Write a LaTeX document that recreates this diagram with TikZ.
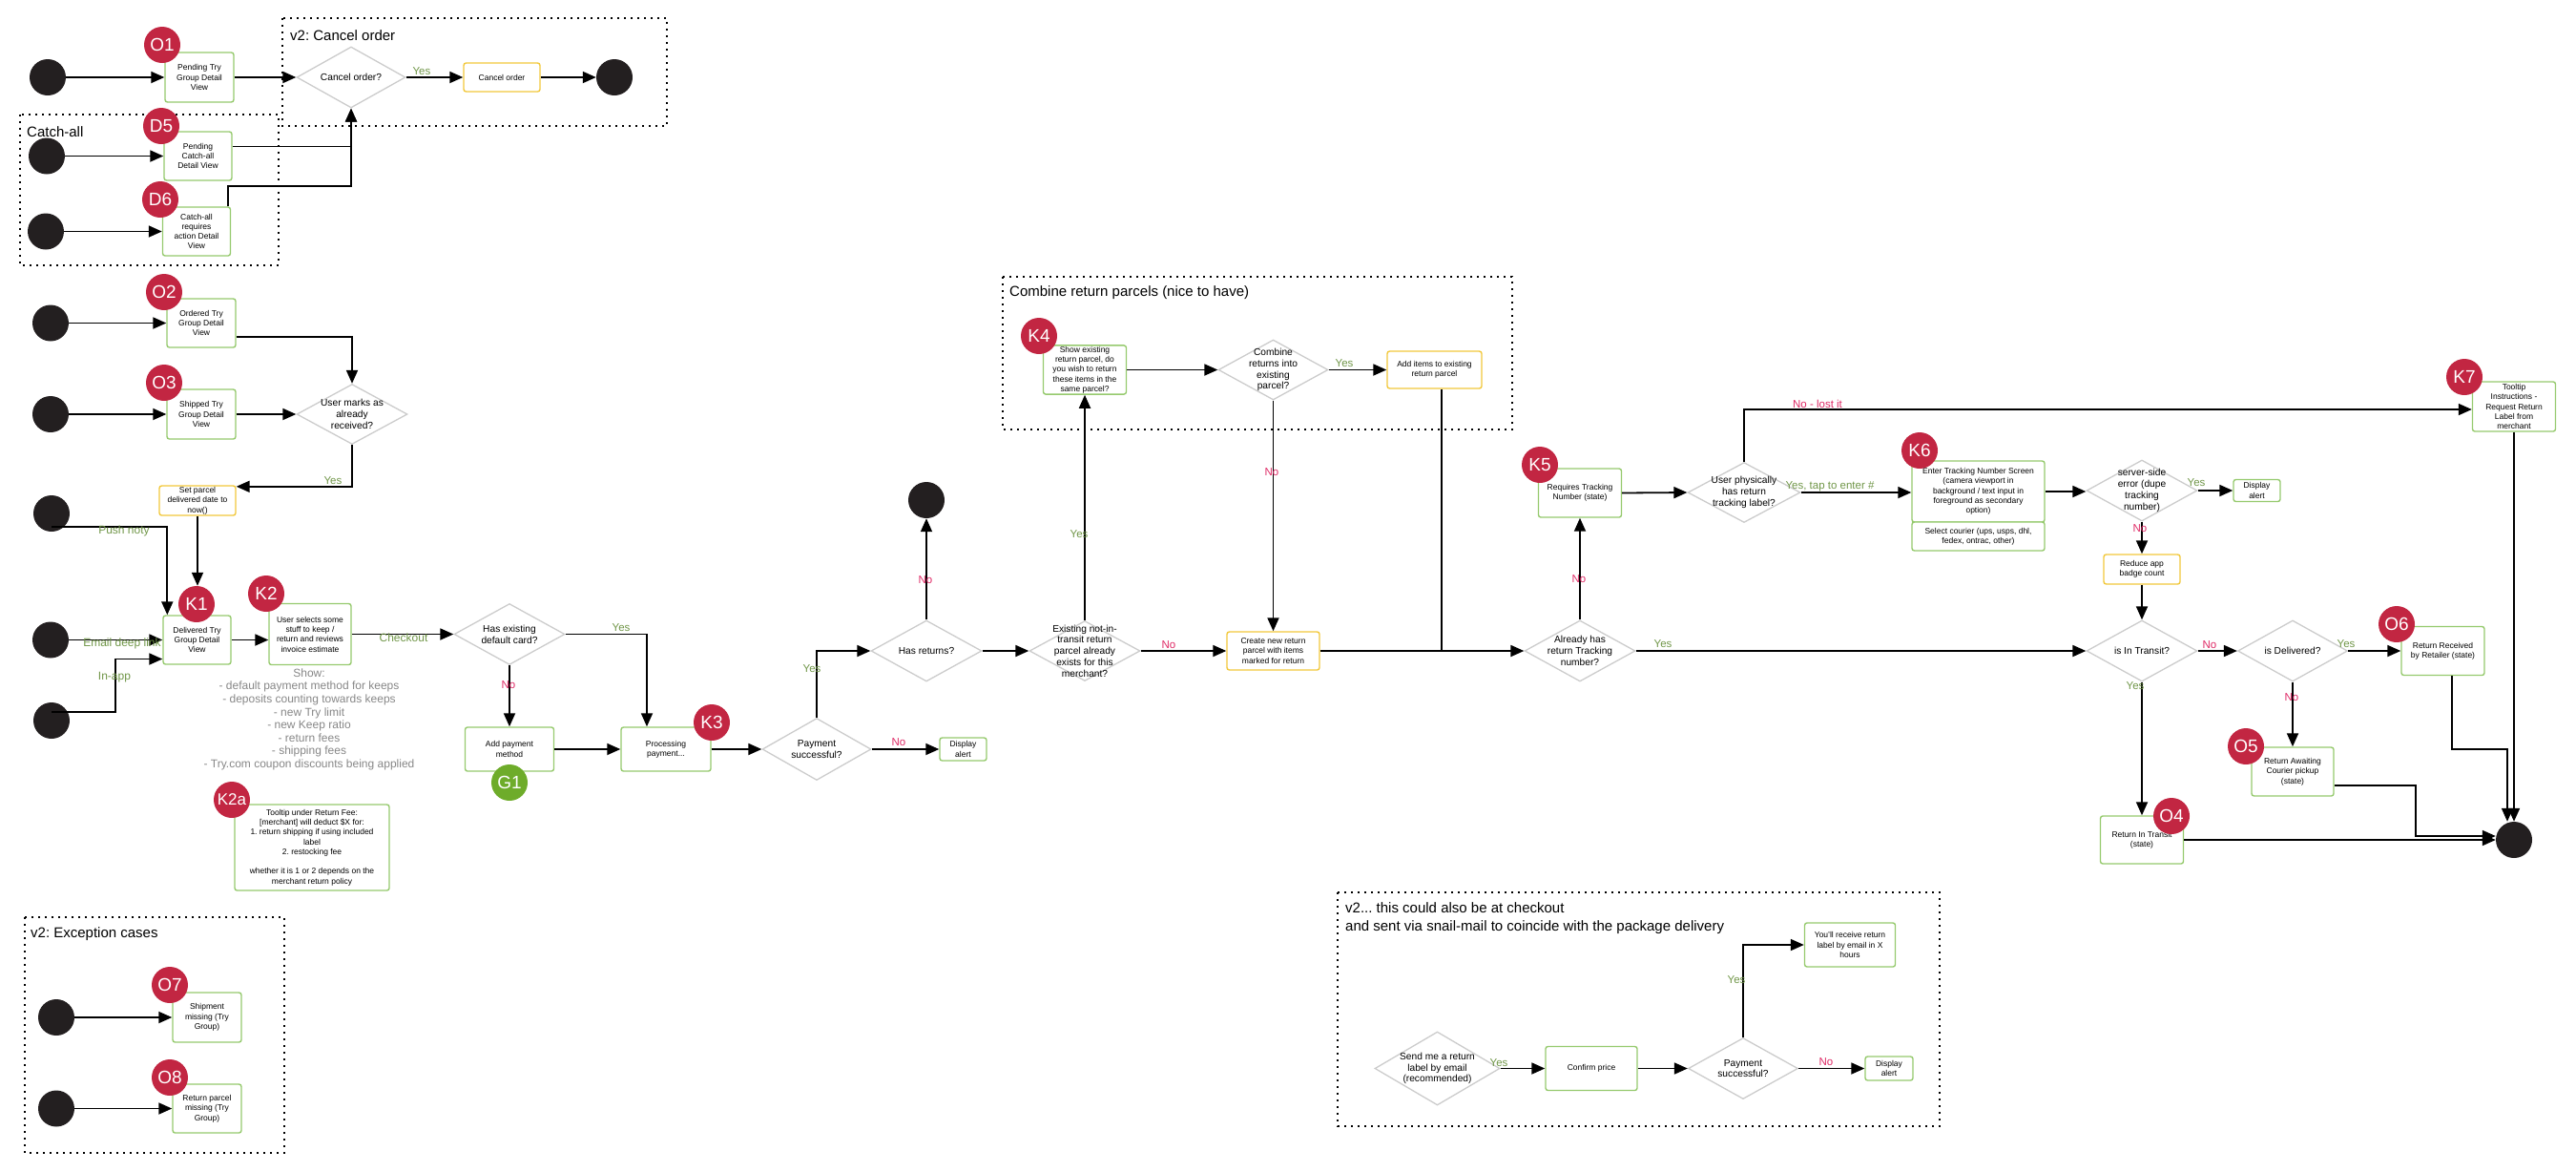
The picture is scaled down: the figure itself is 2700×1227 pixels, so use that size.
\documentclass[tikz,border=0pt]{standalone}
\usepackage{fontspec}
\setmainfont{Liberation Sans}
\usetikzlibrary{shapes.geometric,arrows.meta}
\definecolor{gbord}{RGB}{150,202,110}
\definecolor{ybord}{RGB}{242,200,60}
\definecolor{dgray}{RGB}{204,204,204}
\definecolor{bred}{RGB}{194,38,66}
\definecolor{bgreen}{RGB}{110,172,42}
\definecolor{yescol}{RGB}{112,150,72}
\definecolor{nocol}{RGB}{222,40,100}
\definecolor{showgray}{RGB}{135,135,135}
\definecolor{dotcol}{RGB}{35,31,32}
\frenchspacing
\begin{document}
\begin{tikzpicture}[x=1pt,y=-1pt,
 gbox/.style 2 args={draw=gbord, line width=1.4pt, rounded corners=2.5pt, fill=white, minimum width=#1, minimum height=#2, inner sep=1pt, align=center, font=\fontsize{8.5}{10.3}\selectfont},
 ybox/.style 2 args={gbox={#1}{#2}, draw=ybord},
 dia/.style 2 args={diamond, draw=dgray, line width=1.3pt, fill=white, minimum width=#1, minimum height=#2, inner sep=0pt},
 dtxt/.style={align=center, font=\fontsize{10.2}{11.8}\selectfont, inner sep=0pt},
 badge/.style={circle, fill=bred, text=white, minimum size=38pt, inner sep=0pt, font=\fontsize{19}{19}\selectfont},
 gbadge/.style={badge, fill=bgreen},
 dot/.style={circle, fill=dotcol, minimum size=38pt, inner sep=0pt},
 conn/.style={line width=1.8pt, -{Triangle[length=14pt,width=12pt]}},
 plain/.style={line width=1.8pt},
 yes/.style={text=yescol, font=\fontsize{11.5}{12}\selectfont, inner sep=0pt},
 no/.style={text=nocol, font=\fontsize{11.5}{12}\selectfont, inner sep=0pt},
 via/.style={text=yescol, font=\fontsize{12}{13}\selectfont, inner sep=0pt},
 grp/.style={draw=black, line width=2pt, dash pattern=on 2pt off 5pt},
 gtitle/.style={font=\fontsize{15}{19}\selectfont, inner sep=0pt, anchor=west, align=left}]
\useasboundingbox (0,0) rectangle (2700,1227);

% ---------- group frames ----------
\draw[grp] (296,19) rectangle (699,132);
\node[gtitle] (tcancel) at (304,37) {v2: Cancel order};
\draw[grp] (21,120) rectangle (292,278);
\node[gtitle] (tcatch) at (28,138) {Catch-all};
\draw[grp] (1051,290) rectangle (1585,450);
\node[gtitle] (tcombine) at (1058,307) {Combine return parcels (nice to have)};
\draw[grp] (1402,935) rectangle (2033,1180);
\node[gtitle] (tv2) at (1410,962.5) {v2... this could also be at checkout\\and sent via snail-mail to coincide with the package delivery};
\draw[grp] (26,961) rectangle (298,1208);
\node[gtitle] (texc) at (32,979) {v2: Exception cases};

% ---------- cancel / catch-all ----------
\node[dot] (s1) at (50,81) {};
\node[gbox={72}{52}] (o1) at (209,81) {Pending Try\\Group Detail\\View};
\node[dia={114}{64}, label={[dtxt]center:{Cancel order?}}] (cancelq) at (368,81) {};
\node[ybox={80}{30}] (cancelbox) at (526,81) {Cancel order};
\node[dot] (end1) at (644,81) {};
\node[dot] (sd5) at (49,163.5) {};
\node[gbox={71}{51}] (d5) at (207.5,163.5) {Pending\\Catch-all\\Detail View};
\node[dot] (sd6) at (48,242.5) {};
\node[gbox={71}{51}] (d6) at (206,242.5) {Catch-all\\requires\\action Detail\\View};

% ---------- O2 / O3 ----------
\node[dot] (s2) at (53,338.5) {};
\node[gbox={72}{51}] (o2) at (211,338.5) {Ordered Try\\Group Detail\\View};
\node[dot] (s3) at (53,434) {};
\node[gbox={72}{52}] (o3) at (211,434) {Shipped Try\\Group Detail\\View};
\node[dia={116}{63}, label={[dtxt]center:{User marks as\\already\\received?}}] (umarks) at (369,434) {};
\node[ybox={80}{31}] (setp) at (207,524.5) {Set parcel\\delivered date to\\now()};
\node[dot] (s4) at (54,538) {};

% ---------- K1 / K2 ----------
\node[gbox={71}{51}] (k1) at (206.5,670.5) {Delivered Try\\Group Detail\\View};
\node[dot] (s5) at (53,670.5) {};
\node[dot] (s6) at (54,755) {};
\node[gbox={86}{64}] (k2) at (325,664.5) {User selects some\\stuff to keep /\\return and reviews\\invoice estimate};
\node[text=showgray, align=center, inner sep=0pt, font=\fontsize{12}{13.6}\selectfont] (show) at (324,753.7)
 {Show:\\- default payment method for keeps\\- deposits counting towards keeps\\- new Try limit\\- new Keep ratio\\- return fees\\- shipping fees\\- Try.com coupon discounts being applied};
\node[gbox={162}{90}] (k2a) at (327,888) {Tooltip under Return Fee:\\{[merchant] will deduct \$X for:}\\1. return shipping if using included\\label\\2. restocking fee\\[10.3pt]whether it is 1 or 2 depends on the\\merchant return policy};
\node[dia={116}{64}, label={[dtxt]center:{Has existing\\default card?}}] (hasdef) at (534,664.5) {};
\node[gbox={93}{46}] (addpay) at (534,785) {Add payment\\method};
\node[gbox={94}{46}] (proc) at (698,785) {Processing\\payment...};
\node[dia={114}{65}, label={[dtxt]center:{Payment\\successful?}}] (payq) at (856,785) {};
\node[gbox={49}{24}] (disp1) at (1009.5,785) {Display\\alert};
\node[dia={116}{64}, label={[dtxt]center:{Has returns?}}] (hasret) at (971,682) {};
\node[dot] (end2) at (971,524) {};
\node[dia={116}{63}, label={[dtxt]center:{Existing not-in-\\transit return\\parcel already\\exists for this\\merchant?}}] (exist) at (1137,682) {};
\node[ybox={97}{40}] (create) at (1334.5,682) {Create new return\\parcel with items\\marked for return};
\node[gbox={87}{51}] (k4) at (1137,387.5) {Show existing\\return parcel, do\\you wish to return\\these items in the\\same parcel?};
\node[dia={115}{63}, label={[dtxt]center:{Combine\\returns into\\existing\\parcel?}}] (combine) at (1334.5,387.5) {};
\node[ybox={99}{39}] (additems) at (1503.5,387.5) {Add items to existing\\return parcel};

% ---------- tracking ----------
\node[dia={116}{64}, label={[dtxt]center:{Already has\\return Tracking\\number?}}] (already) at (1656,682) {};
\node[gbox={87}{51}] (k5) at (1656,516.5) {Requires Tracking\\Number (state)};
\node[dia={118}{63}, label={[dtxt]center:{User physically\\has return\\tracking label?}}] (userphys) at (1828,516) {};
\node[gbox={139}{64}] (k6) at (2073.5,515) {Enter Tracking Number Screen\\(camera viewport in\\background / text input in\\foreground as secondary\\option)};
\node[gbox={139}{30}] (k6b) at (2073.5,562) {Select courier (ups, usps, dhl,\\fedex, ontrac, other)};
\node[dia={116}{64}, label={[dtxt]center:{server-side\\error (dupe\\tracking\\number)}}] (server) at (2245,514) {};
\node[gbox={49}{23}] (disp2) at (2365.5,514) {Display\\alert};
\node[ybox={80}{31}] (reduce) at (2245,596.5) {Reduce app\\badge count};
\node[dia={116}{64}, label={[dtxt]center:{is In Transit?}}] (intransit) at (2245,682) {};
\node[dia={115}{64}, label={[dtxt]center:{is Delivered?}}] (delivered) at (2403,682) {};
\node[gbox={87}{51}] (o6) at (2560.5,682) {Return Received\\by Retailer (state)};
\node[gbox={86}{51}] (o5) at (2403,808.5) {Return Awaiting\\Courier pickup\\(state)};
\node[gbox={87}{50}] (o4) at (2245,880) {Return In Transit\\(state)};
\node[gbox={87}{52}] (k7) at (2635,426) {Tooltip\\Instructions -\\Request Return\\Label from\\merchant};
\node[dot] (endR) at (2635,880) {};

% ---------- v2 email label ----------
\node[dia={131}{77}, label={[dtxt]center:{Send me a return\\label by email\\(recommended)}}] (sendme) at (1506.5,1119.5) {};
\node[gbox={96}{46}] (confirm) at (1668,1119.5) {Confirm price};
\node[dia={115}{64}, label={[dtxt]center:{Payment\\successful?}}] (pay2) at (1827,1119.5) {};
\node[gbox={95}{46}] (youll) at (1939,990) {You'll receive return\\label by email in X\\hours};
\node[gbox={50}{25}] (disp3) at (1980,1119.5) {Display\\alert};

% ---------- exceptions ----------
\node[dot] (s7) at (59,1066) {};
\node[gbox={72}{52}] (o7) at (217,1066) {Shipment\\missing (Try\\Group)};
\node[dot] (s8) at (59,1161.5) {};
\node[gbox={72}{51}] (o8) at (217,1161.5) {Return parcel\\missing (Try\\Group)};

% ---------- badges ----------
\node[badge] (o1b) at (170,47) {O1};
\node[badge] (d5b) at (169,132) {D5};
\node[badge] (d6b) at (168,209) {D6};
\node[badge] (o2b) at (172,306) {O2};
\node[badge] (o3b) at (172,401) {O3};
\node[badge] (k1b) at (206,633) {K1};
\node[badge] (k2b) at (279,622) {K2};
\node[badge, font=\fontsize{17}{17}\selectfont] (k2ab) at (243,838) {K2a};
\node[gbadge] (g1b) at (534,820) {G1};
\node[badge] (k3b) at (746,757) {K3};
\node[badge] (k4b) at (1089,352) {K4};
\node[badge] (k5b) at (1614,487) {K5};
\node[badge] (k6b2) at (2012,472) {K6};
\node[badge] (k7b) at (2583,395) {K7};
\node[badge] (o6b) at (2512,654) {O6};
\node[badge] (o5b) at (2354,782) {O5};
\node[badge] (o4b) at (2276,855) {O4};
\node[badge] (o7b) at (178,1032) {O7};
\node[badge] (o8b) at (178,1129) {O8};

% ---------- connectors ----------
\draw[conn] (s1) -- (o1.west);
\draw[conn] (o1.east) -- (cancelq.west);
\draw[conn] (cancelq.east) -- (cancelbox.west);
\draw[conn] (cancelbox.east) -- (end1.west);
\draw[conn] (sd5) -- (d5.west);
\draw[conn] ([yshift=10pt]d5.east) -| (cancelq.south);
\draw[conn] ([xshift=-3pt]d6.north east) -- ++(0,-21) -| (cancelq.south);
\draw[conn] (sd6) -- (d6.west);
\draw[conn] (s2) -- (o2.west);
\draw[conn] ([yshift=-14.5pt]o2.east) -| (umarks.north);
\draw[conn] (s3) -- (o3.west);
\draw[conn] (o3.east) -- (umarks.west);
\draw[conn] (umarks.south) |- ([yshift=-1.5pt]setp.north east);
\draw[conn] (setp.south) -- (setp.south |- k1b.north);
\draw[conn] ([yshift=-14pt]s4.center) -| ([xshift=5pt]k1.north west);
\draw[conn] (s5) -- (k1.west);
\draw[conn] ([yshift=9pt]s6.center) -| ([yshift=-20pt,xshift=-49pt]k1.west) -- ([yshift=-20pt]k1.west);
\draw[conn] (k1.east) -- (k1.east -| k2.west);
\draw[conn] (k2.east) -- (hasdef.west);
\draw[conn] (hasdef.east) -| ([xshift=-20pt]proc.north);
\draw[conn] (hasdef.south) -- (addpay.north);
\draw[conn] (addpay.east) -- (proc.west);
\draw[conn] (proc.east) -- (payq.west);
\draw[conn] (payq.east) -- (disp1.west);
\draw[conn] (payq.north) |- (hasret.west);
\draw[conn] (hasret.north) -- (end2.south);
\draw[conn] (hasret.east) -- (exist.west);
\draw[conn] (exist.east) -- (create.west);
\draw[conn] (exist.north) -- (k4.south);
\draw[conn] (k4.east) -- (combine.west);
\draw[conn] (combine.east) -- (additems.west);
\draw[conn] (combine.south) -- (create.north);
\draw[plain] ([xshift=7.5pt]additems.south) -- ([xshift=7.5pt]additems.south |- create.east);
\draw[conn] (create.east) -- (already.west);
\draw[conn] (already.north) -- (k5.south);
\draw[conn] (already.east) -- (intransit.west);
\draw[conn] (k5.east) -- (userphys.west);
\draw[conn] (userphys.east) -- (userphys.east -| k6.west);
\draw[conn] (userphys.north) |- ([yshift=-3pt]k7.west);
\draw[conn] (k6.east) -- (k6.east -| server.west);
\draw[conn] (server.east) -- (disp2.west);
\draw[conn] (server.south) -- (reduce.north);
\draw[conn] (reduce.south) -- (intransit.north);
\draw[conn] (intransit.east) -- (delivered.west);
\draw[conn] (intransit.south) -- (o4.north);
\draw[conn] (delivered.east) -- (o6.west);
\draw[conn] (delivered.south) -- (o5.north);
\draw[conn] (o4.east) -- (endR.west);
\draw[conn] ([yshift=-14.5pt]o5.east) -| ([xshift=-84pt,yshift=4pt]endR.west) -- ([yshift=4pt]endR.west);
\draw[conn] ([xshift=9.5pt]o6.south) |- ([xshift=-7pt,yshift=76pt]endR.north) -- ([xshift=-7pt]endR.north);
\draw[conn] (k7.south) -- (endR.north);
\draw[conn] (sendme.east) -- (confirm.west);
\draw[conn] (confirm.east) -- (pay2.west);
\draw[conn] (pay2.north) |- (youll.west);
\draw[conn] (pay2.east) -- (disp3.west);
\draw[conn] (s7) -- (o7.west);
\draw[conn] (s8) -- (o8.west);

% ---------- connector labels ----------
\node[yes] (l1) at (442,75) {Yes};
\node[yes] (l2) at (349,504) {Yes};
\node[via] (l3) at (130,556) {Push noty};
\node[via] (l4) at (128,674) {Email deep link};
\node[via] (l5) at (120,710) {In-app};
\node[via] (l6) at (423,668) {Checkout};
\node[yes] (l7) at (651,658) {Yes};
\node[no] (l8) at (533,718) {No};
\node[no] (l9) at (942,778) {No};
\node[yes] (l10) at (851,701) {Yes};
\node[no] (l11) at (970,608) {No};
\node[no] (l12) at (1225,676) {No};
\node[yes] (l13) at (1131,560) {Yes};
\node[yes] (l14) at (1409,381) {Yes};
\node[no] (l15) at (1333,495) {No};
\node[yes] (l16) at (1743,675) {Yes};
\node[no] (l17) at (1655,607) {No};
\node[yes] (l18) at (1918,510) {Yes, tap to enter \#};
\node[no] (l19) at (1905,423) {No - lost it};
\node[yes] (l20) at (2302,506) {Yes};
\node[no] (l21) at (2243,554) {No};
\node[no] (l22) at (2316,676) {No};
\node[yes] (l23) at (2238,719) {Yes};
\node[yes] (l24) at (2459,675) {Yes};
\node[no] (l25) at (2402,731) {No};
\node[yes] (l26) at (1571,1114) {Yes};
\node[yes] (l27) at (1820,1027) {Yes};
\node[no] (l28) at (1914,1113) {No};
\end{tikzpicture}
\end{document}
